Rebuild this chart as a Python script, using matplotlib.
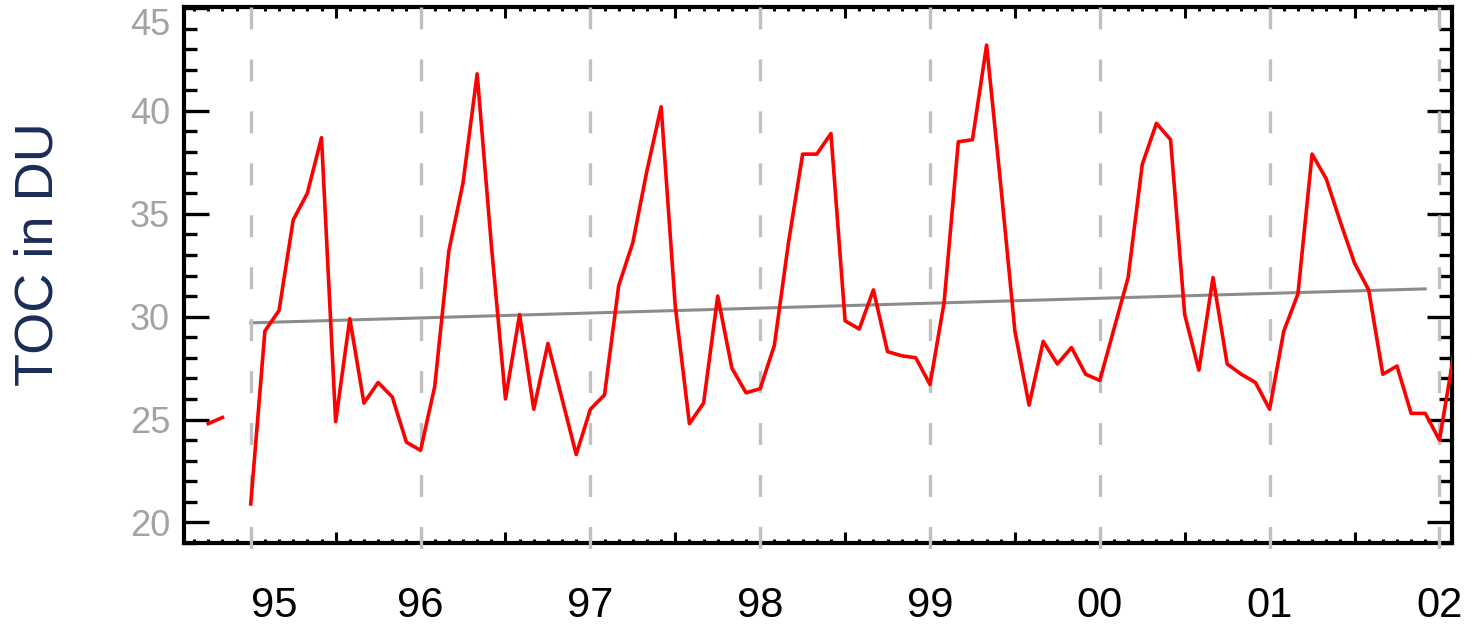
import numpy as np
import matplotlib
matplotlib.use("Agg")
import matplotlib.pyplot as plt
from matplotlib import font_manager
from matplotlib.ticker import FixedLocator, FixedFormatter

plt.rcParams["lines.scale_dashes"] = False

# Monthly total ozone column (DU), Oct 1994 - Feb 2002; Dec 1994 missing
first_year = 94
first_month = 10
toc_du = [
    24.8, 25.1, np.nan,
    20.9, 29.3, 30.3, 34.7, 36.0, 38.7, 24.9, 29.9, 25.8, 26.8, 26.1, 23.9,
    23.5, 26.6, 33.2, 36.5, 41.8, 33.5, 26.0, 30.1, 25.5, 28.7, 26.0, 23.3,
    25.5, 26.2, 31.5, 33.6, 37.1, 40.2, 30.5, 24.8, 25.8, 31.0, 27.5, 26.3,
    26.5, 28.6, 33.6, 37.9, 37.9, 38.9, 29.8, 29.4, 31.3, 28.3, 28.1, 28.0,
    26.7, 30.7, 38.5, 38.6, 43.2, 36.4, 29.3, 25.7, 28.8, 27.7, 28.5, 27.2,
    26.9, 29.4, 31.9, 37.4, 39.4, 38.6, 30.1, 27.4, 31.9, 27.7, 27.2, 26.8,
    25.5, 29.3, 31.1, 37.9, 36.7, 34.6, 32.6, 31.3, 27.2, 27.6, 25.3, 25.3,
    24.0, 28.1,
]

# Linear trend, Jan 1995 to Dec 2001
trend_t = [95.0, 101.0 + 11 / 12]
trend_du = [29.7, 31.35]

year_ticks = [95, 96, 97, 98, 99, 100, 101, 102]
year_labels = ["95", "96", "97", "98", "99", "00", "01", "02"]
y_major = [20, 25, 30, 35, 40, 45]
y_minor = list(range(19, 46))

installed = {f.name for f in font_manager.fontManager.ttflist}
narrow = "Liberation Sans Narrow" if "Liberation Sans Narrow" in installed else "Liberation Sans"
plt.rcParams["font.family"] = ["Liberation Sans", "DejaVu Sans"]

W, H = 1474, 624
fig = plt.figure(figsize=(W / 100, H / 100), dpi=100)
left, right, top, bottom = 183.5, 1452, 7, 543
ax = fig.add_axes([left / W, 1 - bottom / H, (right - left) / W, (bottom - top) / H])

t = first_year + (first_month - 1 + np.arange(len(toc_du))) / 12
ax.plot(t, toc_du, color="#ff0000", lw=2.6, zorder=4, solid_joinstyle="round")
ax.plot(trend_t, trend_du, color="#8c8c8c", lw=2.2, zorder=3)

ax.set_xlim(94.604, 102.074)
ax.set_ylim(19.0, 45.05)

# dashed year lines, drawn from the top and running a little below the frame
ax.vlines(year_ticks, 1.0, -0.026, transform=ax.get_xaxis_transform(),
          colors="#c0c0c0", lw=2.4, linestyles=[(0, (15.8, 21.6))],
          clip_on=False, zorder=3.5)

# x axis: half-year major ticks (labels on whole years), monthly minor ticks
half_years = [y + h for y in year_ticks for h in (0.0, 0.5) if y + h <= 102.07]
half_labels = []
for v in half_years:
    half_labels.append(year_labels[year_ticks.index(int(v))] if v == int(v) else "")
months = [y + m / 12 for y in range(94, 103) for m in range(1, 12) if m != 6]
months = [m for m in months if 94.604 < m < 102.074]
ax.xaxis.set_major_locator(FixedLocator(half_years))
ax.xaxis.set_major_formatter(FixedFormatter(half_labels))
ax.xaxis.set_minor_locator(FixedLocator(months))

ax.yaxis.set_major_locator(FixedLocator(y_major))
ax.yaxis.set_minor_locator(FixedLocator(y_minor))

ax.tick_params(axis="x", which="major", direction="in", length=8, width=2.2,
               top=True, bottom=True, pad=31, labelsize=30, labelcolor="black")
ax.tick_params(axis="x", which="minor", direction="in", length=3.2, width=2.2,
               top=True, bottom=True)
ax.tick_params(axis="y", which="major", direction="in", length=18, width=2.4,
               left=True, right=True, pad=9.7, labelsize=26, labelcolor="#a3a3a3")
ax.tick_params(axis="y", which="minor", direction="in", length=9.4, width=2.4,
               left=True, right=True)

for lbl in ax.get_yticklabels():
    lbl.set_fontfamily(narrow)
ax.get_yticklabels()[-1].set_va("top")
ax.get_xticklabels()[0].set_ha("left")

for s in ax.spines.values():
    s.set_linewidth(3)
    s.set_color("black")

ax.set_ylabel("TOC in DU", fontsize=39, family=narrow, color="#1a2c58")
ax.yaxis.label.set_va("center")
ax.yaxis.set_label_coords((38.5 - left) / (right - left), (bottom - 254) / (bottom - top))

fig.savefig("out.png", dpi=100)
